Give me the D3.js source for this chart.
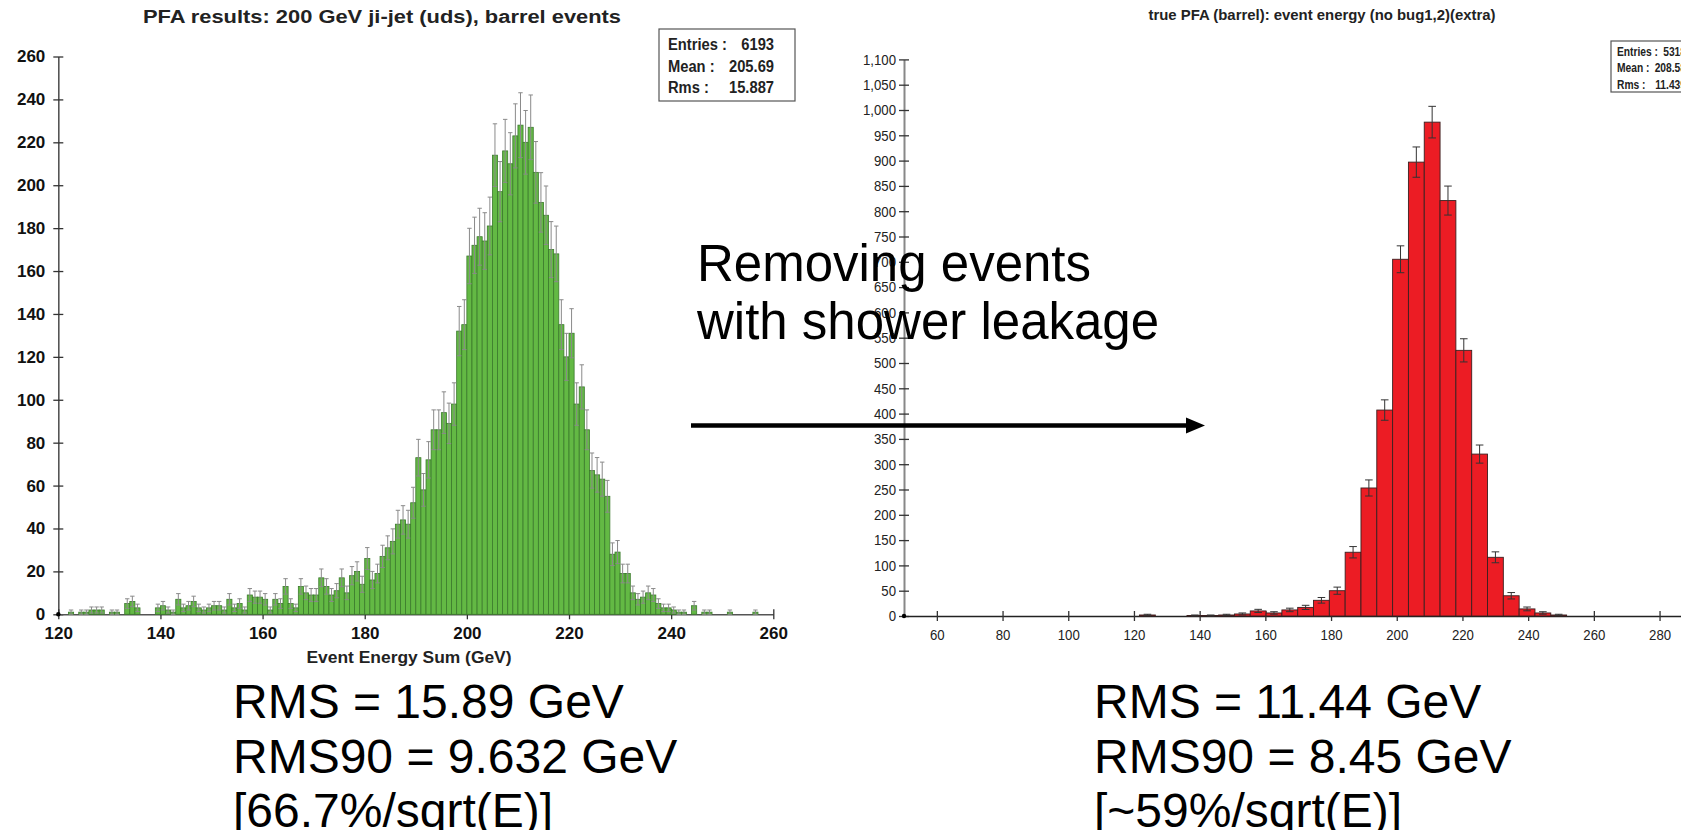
<!DOCTYPE html>
<html>
<head>
<meta charset="utf-8">
<script src="https://cdnjs.cloudflare.com/ajax/libs/d3/7.8.5/d3.min.js"></script>
<style>
    body { margin: 0; background: #fff; }
    svg { display: block; }
    text { font-family: "Liberation Sans", Arial, sans-serif; }
    .big { fill: #000; }
    .axisL .tick text { font-weight: bold; font-size: 17px; fill: #111; }
    .axisR .tick text { font-size: 15px; fill: #222; }
</style>
</head>
<body>
<div id="chart"></div>
<script>
// left plot: 1 GeV bins starting at 120 GeV
var greenStart = 120, greenBin = 1;
var greenCounts = [
    0, 0, 1, 0, 1, 1, 2, 2, 2, 0,          // 120-129
    1, 1, 0, 5, 6, 3, 0, 0, 0, 3,          // 130-139
    4, 2, 1, 7, 3, 4, 6, 3, 2, 3,          // 140-149
    4, 4, 2, 7, 3, 5, 2, 9, 8, 8,          // 150-159
    7, 2, 7, 5, 13, 5, 3, 13, 10, 9,       // 160-169
    9, 17, 13, 9, 11, 17, 10, 18, 20, 14,  // 170-179
    26, 16, 19, 27, 31, 34, 42, 44, 42, 52,      // 180-189
    73, 58, 72, 86, 86, 94, 89, 98, 132, 135,    // 190-199
    167, 172, 176, 174, 181, 214, 197, 216, 210, 223, // 200-209
    228, 220, 227, 206, 192, 186, 170, 168, 135, 120, // 210-219
    131, 98, 106, 86, 67, 65, 63, 55, 28, 29,    // 220-229
    19, 19, 10, 7, 8, 10, 9, 5, 3, 3,            // 230-239
    2, 1, 1, 0, 4, 0, 1, 1, 0, 0,                // 240-249
    0, 1, 0, 0, 0, 0, 1, 0, 0, 0                 // 250-259
];

// right plot: ~4.8 GeV bins
var redStart = 121.7, redBin = 4.815;
var redCounts = [2, 0, 0, 1, 1, 2, 4, 10, 6, 12, 17, 31, 50, 126, 253, 407,
    705, 897, 976, 821, 525, 320, 116, 40, 14, 6, 2];

var greenTicksX = [120, 140, 160, 180, 200, 220, 240, 260];
var greenTicksY = [0, 20, 40, 60, 80, 100, 120, 140, 160, 180, 200, 220, 240, 260];
var redTicksX = [60, 80, 100, 120, 140, 160, 180, 200, 220, 240, 260, 280, 300];
var redTicksY = [0, 50, 100, 150, 200, 250, 300, 350, 400, 450, 500, 550, 600, 650,
    700, 750, 800, 850, 900, 950, 1000, 1050, 1100];

var greenTitle = "PFA results: 200 GeV ji-jet (uds), barrel events";
var redTitle = "true PFA (barrel): event energy (no bug1,2)(extra)";
var greenStats = [["Entries :", "6193"], ["Mean :", "205.69"], ["Rms :", "15.887"]];
var redStats = [["Entries :", "5318"], ["Mean :", "208.58"], ["Rms :", "11.439"]];
var greenNotes = ["RMS = 15.89 GeV", "RMS90 = 9.632 GeV", "[66.7%/sqrt(E)]"];
var redNotes = ["RMS = 11.44 GeV", "RMS90 = 8.45 GeV", "[~59%/sqrt(E)]"];
var arrowNote = ["Removing events", "with shower leakage"];


var svg = d3.select("#chart").append("svg")
    .attr("width", 1681)
    .attr("height", 830);

svg.append("rect").attr("width", 1681).attr("height", 830).attr("fill", "#fff");

// text squeezed horizontally (the plots use a condensed face)
function squeezed(g, x, y, str, size, anchor, sx) {
    return g.append("text")
        .attr("transform", "translate(" + x + "," + y + ") scale(" + sx + ",1)")
        .attr("text-anchor", anchor)
        .attr("font-weight", "bold")
        .attr("font-size", size)
        .attr("fill", "#222")
        .text(str);
}


histChart = function(_svg, _counts, _start, _bin, _cfg) {
    this.svg = _svg;
    this.counts = _counts;
    this.start = _start;
    this.bin = _bin;
    this.cfg = _cfg;

    this.initVis();
}

histChart.prototype.initVis = function() {
    var vis = this;

    vis.x = d3.scaleLinear()
        .domain(vis.cfg.xDomain)
        .range(vis.cfg.xRange);
    vis.y = d3.scaleLinear()
        .domain(vis.cfg.yDomain)
        .range(vis.cfg.yRange);

    vis.g = vis.svg.append("g").attr("class", vis.cfg.cls);

    vis.wrangleData();
}

histChart.prototype.wrangleData = function() {
    var vis = this;

    vis.displayData = [];
    vis.counts.forEach(function(c, i) {
        if (c > 0) {
            vis.displayData.push({
                lo: vis.start + i * vis.bin,
                hi: vis.start + (i + 1) * vis.bin,
                n: c,
                err: Math.sqrt(c)
            });
        }
    });

    vis.updateVis();
}

histChart.prototype.updateVis = function() {
    var vis = this;
    var cfg = vis.cfg;

    var yAxis = d3.axisLeft(vis.y)
        .tickValues(cfg.yTicks)
        .tickSize(5)
        .tickSizeOuter(0)
        .tickPadding(cfg.yPad)
        .tickFormat(cfg.yFormat);
    var xAxis = d3.axisBottom(vis.x)
        .tickValues(cfg.xTicks)
        .tickSize(5)
        .tickSizeOuter(0)
        .tickPadding(cfg.xPad)
        .tickFormat(d3.format("d"));

    var gy = vis.g.append("g")
        .attr("transform", "translate(" + cfg.xRange[0] + ",0)")
        .call(yAxis);
    gy.select(".domain").attr("stroke", cfg.yAxisColor).attr("stroke-width", cfg.yAxisWidth);
    gy.selectAll(".tick line").attr("x1", 5).attr("stroke", "#333").attr("stroke-width", 1.3);

    var gx = vis.g.append("g")
        .attr("transform", "translate(0," + cfg.yRange[0] + ")")
        .call(xAxis);
    gx.select(".domain").attr("stroke", cfg.xAxisColor).attr("stroke-width", cfg.xAxisWidth);
    gx.selectAll(".tick line").attr("y1", -5).attr("stroke", "#333").attr("stroke-width", 1.3);

    vis.g.selectAll("g[font-family]").attr("font-family", null).attr("font-size", null);

    // condensed tick labels on the right plot
    if (cfg.tickSqueeze < 1) {
        vis.g.selectAll(".tick text").each(function() {
            var t = d3.select(this);
            var x0 = +t.attr("x") || 0;
            t.attr("x", x0 / cfg.tickSqueeze)
                .attr("transform", "scale(" + cfg.tickSqueeze + ",1)");
        });
    }

    vis.g.append("circle")
        .attr("cx", cfg.xRange[0])
        .attr("cy", cfg.yRange[0])
        .attr("r", 2.2)
        .attr("fill", "#000");

    vis.g.selectAll("rect.bar")
        .data(vis.displayData)
        .enter()
        .append("rect")
        .attr("class", "bar")
        .attr("x", function(d) { return vis.x(d.lo); })
        .attr("y", function(d) { return vis.y(d.n); })
        .attr("width", function(d) { return vis.x(d.hi) - vis.x(d.lo); })
        .attr("height", function(d) { return vis.y(0) - vis.y(d.n); })
        .attr("fill", cfg.fill)
        .attr("stroke", cfg.stroke)
        .attr("stroke-width", cfg.strokeWidth);

    // error bars (sqrt N)
    var eb = vis.g.selectAll("g.err")
        .data(vis.displayData)
        .enter()
        .append("g")
        .attr("class", "err")
        .attr("stroke", cfg.errColor)
        .attr("stroke-width", 1);

    function mid(d) { return (vis.x(d.lo) + vis.x(d.hi)) / 2; }
    function up(d) { return vis.y(d.n + d.err); }
    function down(d) { return vis.y(Math.max(0, d.n - d.err)); }

    eb.append("line")
        .attr("x1", mid).attr("x2", mid)
        .attr("y1", up).attr("y2", down);
    eb.append("line")
        .attr("x1", function(d) { return mid(d) - cfg.cap; })
        .attr("x2", function(d) { return mid(d) + cfg.cap; })
        .attr("y1", up).attr("y2", up);
    eb.append("line")
        .attr("x1", function(d) { return mid(d) - cfg.cap; })
        .attr("x2", function(d) { return mid(d) + cfg.cap; })
        .attr("y1", down).attr("y2", down);

    // title
    vis.g.append("text")
        .attr("x", cfg.title.x)
        .attr("y", cfg.title.y)
        .attr("text-anchor", "middle")
        .attr("font-weight", "bold")
        .attr("font-size", cfg.title.size)
        .attr("textLength", cfg.title.len)
        .attr("lengthAdjust", "spacingAndGlyphs")
        .attr("fill", "#222")
        .text(cfg.title.text);

    // statistics box
    var sb = cfg.stats;
    vis.g.append("rect")
        .attr("x", sb.x).attr("y", sb.y)
        .attr("width", sb.w).attr("height", sb.h)
        .attr("fill", "#fff")
        .attr("stroke", "#555")
        .attr("stroke-width", 1.2);
    sb.rows.forEach(function(r, i) {
        var yy = sb.y + sb.first + i * sb.step;
        squeezed(vis.g, sb.x + sb.padL, yy, r[0], sb.size, "start", sb.sx);
        squeezed(vis.g, sb.x + sb.w - sb.padR, yy, r[1], sb.size, "end", sb.sx);
    });
}


var green = new histChart(svg, greenCounts, greenStart, greenBin, {
    cls: "axisL",
    xDomain: [120, 260], xRange: [58.3, 773.3],
    yDomain: [0, 260], yRange: [614.3, 56.5],
    xTicks: greenTicksX, yTicks: greenTicksY,
    yFormat: d3.format("d"),
    xPad: 8, yPad: 8, tickSqueeze: 1,
    yAxisColor: "#555", yAxisWidth: 1.6,
    xAxisColor: "#555", xAxisWidth: 1.6,
    fill: "#63b944", stroke: "#3b7a2c", strokeWidth: 0.8,
    errColor: "#8a8a8a", cap: 2.2,
    title: { text: greenTitle, x: 382, y: 23, size: 18, len: 478 },
    stats: { x: 659, y: 29, w: 136, h: 72, padL: 9, padR: 21, first: 21, step: 21.5,
        size: 16, sx: 0.92, rows: greenStats }
});

var red = new histChart(svg, redCounts, redStart, redBin, {
    cls: "axisR",
    xDomain: [50, 300], xRange: [904, 1725.25],
    yDomain: [0, 1100], yRange: [616, 59.4],
    xTicks: redTicksX, yTicks: redTicksY,
    yFormat: d3.format(","),
    xPad: 8, yPad: 3, tickSqueeze: 0.88,
    yAxisColor: "#888", yAxisWidth: 2,
    xAxisColor: "#222", xAxisWidth: 1.5,
    fill: "#ec1c24", stroke: "#3a2020", strokeWidth: 0.9,
    errColor: "#333", cap: 3.8,
    title: { text: redTitle, x: 1322, y: 20, size: 15, len: 347 },
    stats: { x: 1611, y: 41, w: 87, h: 51, padL: 6, padR: 12, first: 14.5, step: 16.6,
        size: 12.5, sx: 0.82, rows: redStats }
});

// arrow between the two plots
svg.append("line")
    .attr("x1", 691).attr("x2", 1190)
    .attr("y1", 425.5).attr("y2", 425.5)
    .attr("stroke", "#000")
    .attr("stroke-width", 4.5);
svg.append("path")
    .attr("d", "M1186,417.5 L1205,425.5 L1186,433.5 Z")
    .attr("fill", "#000");

svg.selectAll("text.arrowNote")
    .data(arrowNote)
    .enter()
    .append("text")
    .attr("class", "big arrowNote")
    .attr("x", 697)
    .attr("y", function(d, i) { return 281 + i * 57.5; })
    .attr("font-size", 51)
    .text(function(d) { return d; });

function notes(lines, x, cls) {
    svg.selectAll("text." + cls)
        .data(lines)
        .enter()
        .append("text")
        .attr("class", "big " + cls)
        .attr("x", x)
        .attr("y", function(d, i) { return 718 + i * 54.5; })
        .attr("font-size", 48)
        .text(function(d) { return d; });
}
notes(greenNotes, 233, "gnote");
notes(redNotes, 1094, "rnote");

// x axis title of the left plot
svg.append("text")
    .attr("x", 409)
    .attr("y", 663)
    .attr("text-anchor", "middle")
    .attr("font-weight", "bold")
    .attr("font-size", 16)
    .attr("textLength", 205)
    .attr("lengthAdjust", "spacingAndGlyphs")
    .attr("fill", "#222")
    .text("Event Energy Sum (GeV)");
</script>
</body>
</html>
